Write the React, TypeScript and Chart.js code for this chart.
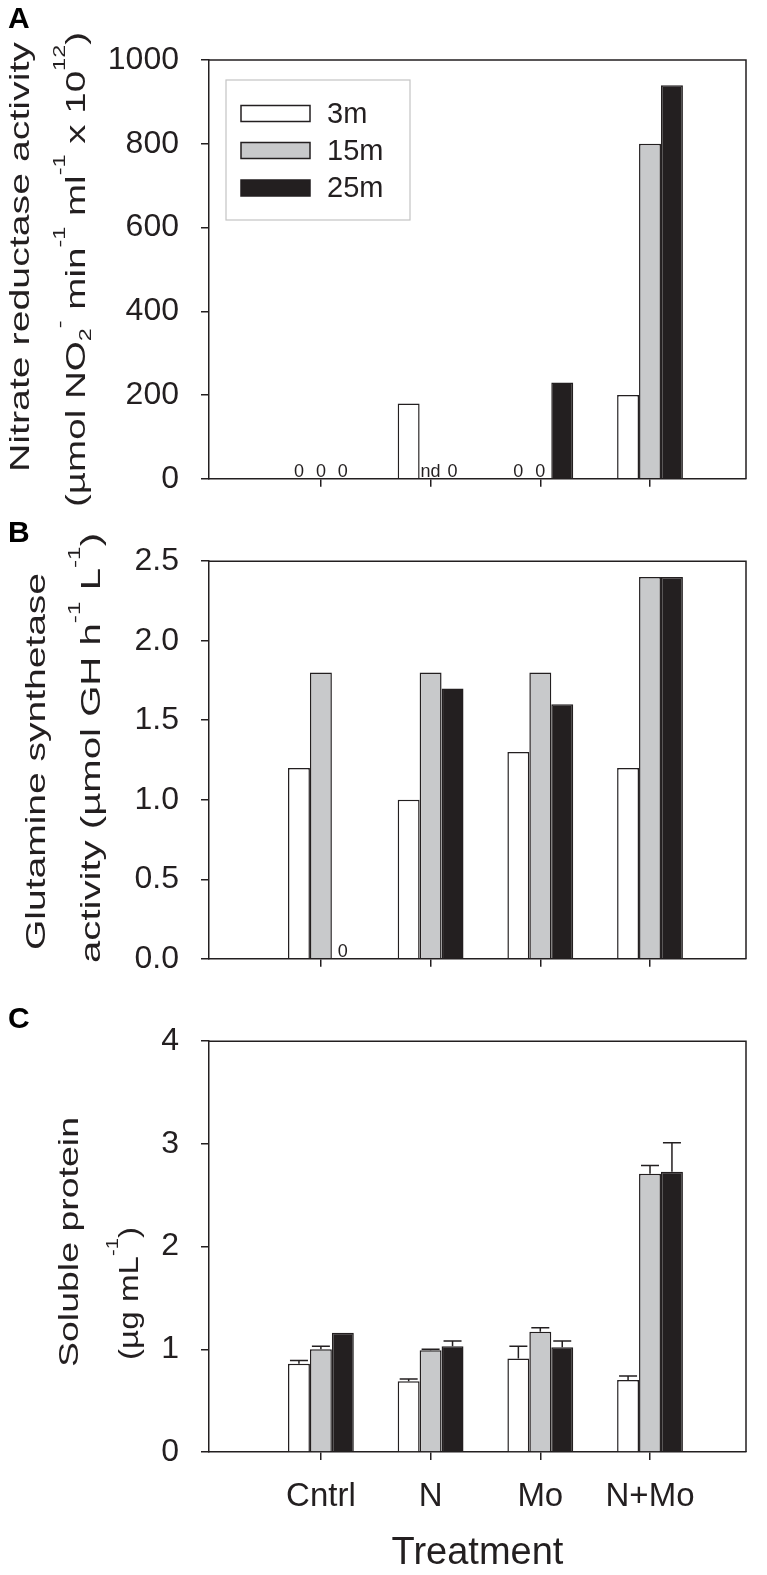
import React, { useEffect, useRef } from 'react';
import { Chart, registerables } from 'chart.js';

Chart.register(...registerables);

// ---------------- data ----------------
const categories = ['Cntrl', 'N', 'Mo', 'N+Mo'];
const seriesLabels = ['3m', '15m', '25m'];
const xAxisTitle = 'Treatment';

// Panel A: nitrate reductase activity
const nr3m = [0, 180, 0, 200];
const nr15m = [0, null, 0, 800];
const nr25m = [0, 0, 230, 940];
const nrNotes3m = ['0', null, '0', null];
const nrNotes15m = ['0', 'nd', '0', null];
const nrNotes25m = ['0', '0', null, null];
const nrTicks = { min: 0, max: 1000, step: 200 };

// Panel B: glutamine synthetase activity
const gs3m = [1.2, 1.0, 1.3, 1.2];
const gs15m = [1.8, 1.8, 1.8, 2.4];
const gs25m = [0, 1.7, 1.6, 2.4];
const gsNotes25m = ['0', null, null, null];
const gsTicks = { min: 0, max: 2.5, step: 0.5 };

// Panel C: soluble protein (with upper error bars)
const sp3m = [0.86, 0.69, 0.91, 0.70];
const sp15m = [1.0, 0.99, 1.17, 2.71];
const sp25m = [1.16, 1.03, 1.02, 2.73];
const spErr3m = [0.03, 0.02, 0.12, 0.04];
const spErr15m = [0.03, 0.01, 0.04, 0.08];
const spErr25m = [0, 0.05, 0.06, 0.28];
const spTicks = { min: 0, max: 4, step: 1 };

// ---------------- styling ----------------
const FAM = '"Liberation Sans", Arial, Helvetica, sans-serif';
const INK = '#231f20';
const FILLS = ['#ffffff', '#c8c9cb', '#231f20'];
const W = 767;
const LEFT = 209;
const RIGHT = 746;
const X_MIN = -1.02;
const X_MAX = 3.875;

type Seg = { t: string; k?: 'sup' | 'sub' };
type TitleLine = { segs: Seg[]; baseX: number; y0: number; y1: number; size: number };

function drawRotatedRich(ctx: CanvasRenderingContext2D, line: TitleLine) {
  const { segs, baseX, y0, y1, size } = line;
  const fontFor = (k?: string) => `${k ? Math.round(size * 0.62) : size}px ${FAM}`;
  let total = 0;
  const widths = segs.map((s) => {
    ctx.font = fontFor(s.k);
    const w = ctx.measureText(s.t).width;
    total += w;
    return w;
  });
  const sx = (y1 - y0) / total;
  ctx.save();
  ctx.fillStyle = INK;
  ctx.textAlign = 'left';
  ctx.textBaseline = 'alphabetic';
  ctx.translate(baseX, y1);
  ctx.rotate(-Math.PI / 2);
  ctx.scale(sx, 1);
  let u = 0;
  segs.forEach((s, i) => {
    ctx.font = fontFor(s.k);
    const dy = s.k === 'sup' ? -size * 0.72 : s.k === 'sub' ? size * 0.2 : 0;
    ctx.fillText(s.t, u, dy);
    u += widths[i];
  });
  ctx.restore();
}

type PanelProps = {
  top: number;
  height: number;
  chartTop: number;
  chartBottom: number;
  series: (number | null)[][];
  ticks: { min: number; max: number; step: number };
  fmt: (v: number) => string;
  showX: boolean;
  titles: TitleLine[];
  letter: string;
  letterBase: number;
  notes?: ((string | null)[] | null)[];
  errors?: number[][];
  legend?: boolean;
};

function Panel(p: PanelProps) {
  const ref = useRef<HTMLCanvasElement | null>(null);
  useEffect(() => {
    const canvas = ref.current!;
    const datasets = p.series.map((vals, i) => ({
      label: seriesLabels[i],
      data: vals.map((v, j) => ({ x: j, y: v })),
      backgroundColor: FILLS[i],
      borderColor: INK,
      borderWidth: 1.5,
      borderSkipped: 'start' as const,
      categoryPercentage: 0.6,
      barPercentage: 1.0,
    }));

    const decor = {
      id: 'decor',
      afterDatasetsDraw(chart: any) {
        const ctx: CanvasRenderingContext2D = chart.ctx;
        const a = chart.chartArea;
        const ys = chart.scales.y;
        // frame: top and right
        ctx.save();
        ctx.strokeStyle = INK;
        ctx.lineWidth = 1.5;
        ctx.beginPath();
        ctx.moveTo(a.left, a.top);
        ctx.lineTo(a.right, a.top);
        ctx.lineTo(a.right, a.bottom);
        ctx.stroke();
        // notes (0 / nd)
        if (p.notes) {
          ctx.fillStyle = INK;
          ctx.font = `18px ${FAM}`;
          ctx.textAlign = 'center';
          ctx.textBaseline = 'alphabetic';
          p.notes.forEach((arr, di) => {
            if (!arr) return;
            const meta = chart.getDatasetMeta(di);
            arr.forEach((txt, j) => {
              if (!txt) return;
              const el = meta.data[j];
              const x = el && isFinite(el.x) ? el.x : chart.scales.x.getPixelForValue(j);
              ctx.fillText(txt, x, a.bottom - 2);
            });
          });
        }
        // error bars
        if (p.errors) {
          ctx.strokeStyle = INK;
          ctx.lineWidth = 1.5;
          p.errors.forEach((errs, di) => {
            const meta = chart.getDatasetMeta(di);
            errs.forEach((e, j) => {
              const v = p.series[di][j];
              if (!e || v == null) return;
              const el = meta.data[j];
              const y0 = ys.getPixelForValue(v);
              const y1 = ys.getPixelForValue(v + e);
              ctx.beginPath();
              ctx.moveTo(el.x, y0);
              ctx.lineTo(el.x, y1);
              ctx.moveTo(el.x - 9, y1);
              ctx.lineTo(el.x + 9, y1);
              ctx.stroke();
            });
          });
        }
        ctx.restore();
      },
      afterDraw(chart: any) {
        const ctx: CanvasRenderingContext2D = chart.ctx;
        p.titles.forEach((t) => drawRotatedRich(ctx, t));
        ctx.save();
        ctx.fillStyle = '#000';
        ctx.font = `bold 30px ${FAM}`;
        ctx.textAlign = 'left';
        ctx.textBaseline = 'alphabetic';
        ctx.fillText(p.letter, 8, p.letterBase);
        ctx.restore();
        if (p.legend) {
          ctx.save();
          ctx.strokeStyle = '#c4c4c4';
          ctx.lineWidth = 1.2;
          ctx.strokeRect(226, 80, 184, 140);
          const rows = [113.5, 150.5, 188];
          chart.data.datasets.forEach((ds: any, i: number) => {
            const cy = rows[i];
            ctx.fillStyle = ds.backgroundColor;
            ctx.fillRect(241, cy - 8, 69, 16);
            ctx.strokeStyle = INK;
            ctx.lineWidth = 1.5;
            ctx.strokeRect(241, cy - 8, 69, 16);
            ctx.fillStyle = INK;
            ctx.font = `29px ${FAM}`;
            ctx.textAlign = 'left';
            ctx.textBaseline = 'middle';
            ctx.fillText(ds.label, 327, cy + 1);
          });
          ctx.restore();
        }
      },
    };

    const chart = new Chart(canvas, {
      type: 'bar',
      data: { datasets: datasets as any },
      options: {
        responsive: false,
        animation: false,
        devicePixelRatio: 1,
        layout: { padding: { top: p.chartTop, right: W - RIGHT, bottom: 0, left: 0 } },
        plugins: { legend: { display: false }, tooltip: { enabled: false } },
        scales: {
          x: {
            type: 'linear',
            min: X_MIN,
            max: X_MAX,
            offset: false,
            afterBuildTicks: (s: any) => {
              s.ticks = categories.map((_, i) => ({ value: i }));
            },
            afterFit: (s: any) => {
              s.height = p.height - p.chartBottom;
            },
            grid: {
              offset: false,
              drawOnChartArea: false,
              drawTicks: true,
              tickLength: 8,
              color: INK,
              lineWidth: 1.5,
            },
            border: { display: true, color: INK, width: 1.5 },
            ticks: {
              display: p.showX,
              autoSkip: false,
              maxRotation: 0,
              minRotation: 0,
              padding: 17,
              color: INK,
              font: { size: 33, family: FAM },
              callback: (v: any) => categories[Math.round(Number(v))] ?? '',
            },
            title: {
              display: p.showX,
              text: xAxisTitle,
              color: INK,
              font: { size: 38, family: FAM, lineHeight: 1 },
              padding: { top: 0, bottom: 2 },
            },
          } as any,
          y: {
            type: 'linear',
            min: p.ticks.min,
            max: p.ticks.max,
            afterFit: (s: any) => {
              s.width = LEFT;
            },
            grid: {
              drawOnChartArea: false,
              drawTicks: true,
              tickLength: 8,
              color: INK,
              lineWidth: 1.5,
            },
            border: { display: true, color: INK, width: 1.5 },
            ticks: {
              stepSize: p.ticks.step,
              padding: 22,
              color: INK,
              font: { size: 32, family: FAM },
              callback: (v: any) => p.fmt(Number(v)),
            },
          } as any,
        },
      },
      plugins: [decor],
    });
    return () => chart.destroy();
  }, []);
  return (
    <canvas
      ref={ref}
      width={W}
      height={p.height}
      style={{ position: 'absolute', left: 0, top: p.top, width: W, height: p.height, display: 'block' }}
    />
  );
}

export default function App() {
  const A_TOP = 0;
  const B_TOP = 520;
  const C_TOP = 1000;
  return (
    <div style={{ position: 'absolute', left: 0, top: 0, width: W, height: 1575, background: '#fff' }}>
      <Panel
        top={A_TOP}
        height={520}
        chartTop={60}
        chartBottom={485}
        series={[nr3m, nr15m, nr25m]}
        ticks={nrTicks}
        fmt={(v) => String(v)}
        showX={false}
        letter="A"
        letterBase={28}
        notes={[nrNotes3m, nrNotes15m, nrNotes25m]}
        legend
        titles={[
          { segs: [{ t: 'Nitrate reductase activity' }], baseX: 29, y0: 42 - A_TOP, y1: 472 - A_TOP, size: 28 },
          {
            segs: [
              { t: '(\u00b5mol NO' },
              { t: '2', k: 'sub' },
              { t: '-', k: 'sup' },
              { t: ' min' },
              { t: '-1', k: 'sup' },
              { t: ' ml' },
              { t: '-1', k: 'sup' },
              { t: ' x 10' },
              { t: '12', k: 'sup' },
              { t: ')' },
            ],
            baseX: 85,
            y0: 32 - A_TOP,
            y1: 507 - A_TOP,
            size: 28,
          },
        ]}
      />
      <Panel
        top={B_TOP}
        height={480}
        chartTop={23}
        chartBottom={448}
        series={[gs3m, gs15m, gs25m]}
        ticks={gsTicks}
        fmt={(v) => v.toFixed(1)}
        showX={false}
        letter="B"
        letterBase={22}
        notes={[null, null, gsNotes25m]}
        titles={[
          { segs: [{ t: 'Glutamine synthetase' }], baseX: 45, y0: 573 - B_TOP, y1: 950 - B_TOP, size: 28 },
          {
            segs: [{ t: 'activity (\u00b5mol GH h' }, { t: '-1', k: 'sup' }, { t: ' L' }, { t: '-1', k: 'sup' }, { t: ')' }],
            baseX: 100,
            y0: 533 - B_TOP,
            y1: 963 - B_TOP,
            size: 28,
          },
        ]}
      />
      <Panel
        top={C_TOP}
        height={575}
        chartTop={27}
        chartBottom={452}
        series={[sp3m, sp15m, sp25m]}
        ticks={spTicks}
        fmt={(v) => String(v)}
        showX={true}
        letter="C"
        letterBase={28}
        errors={[spErr3m, spErr15m, spErr25m]}
        titles={[
          { segs: [{ t: 'Soluble protein' }], baseX: 78, y0: 1117 - C_TOP, y1: 1367 - C_TOP, size: 28 },
          {
            segs: [{ t: '(\u00b5g mL' }, { t: '-1', k: 'sup' }, { t: ')' }],
            baseX: 138,
            y0: 1227 - C_TOP,
            y1: 1360 - C_TOP,
            size: 28,
          },
        ]}
      />
    </div>
  );
}
